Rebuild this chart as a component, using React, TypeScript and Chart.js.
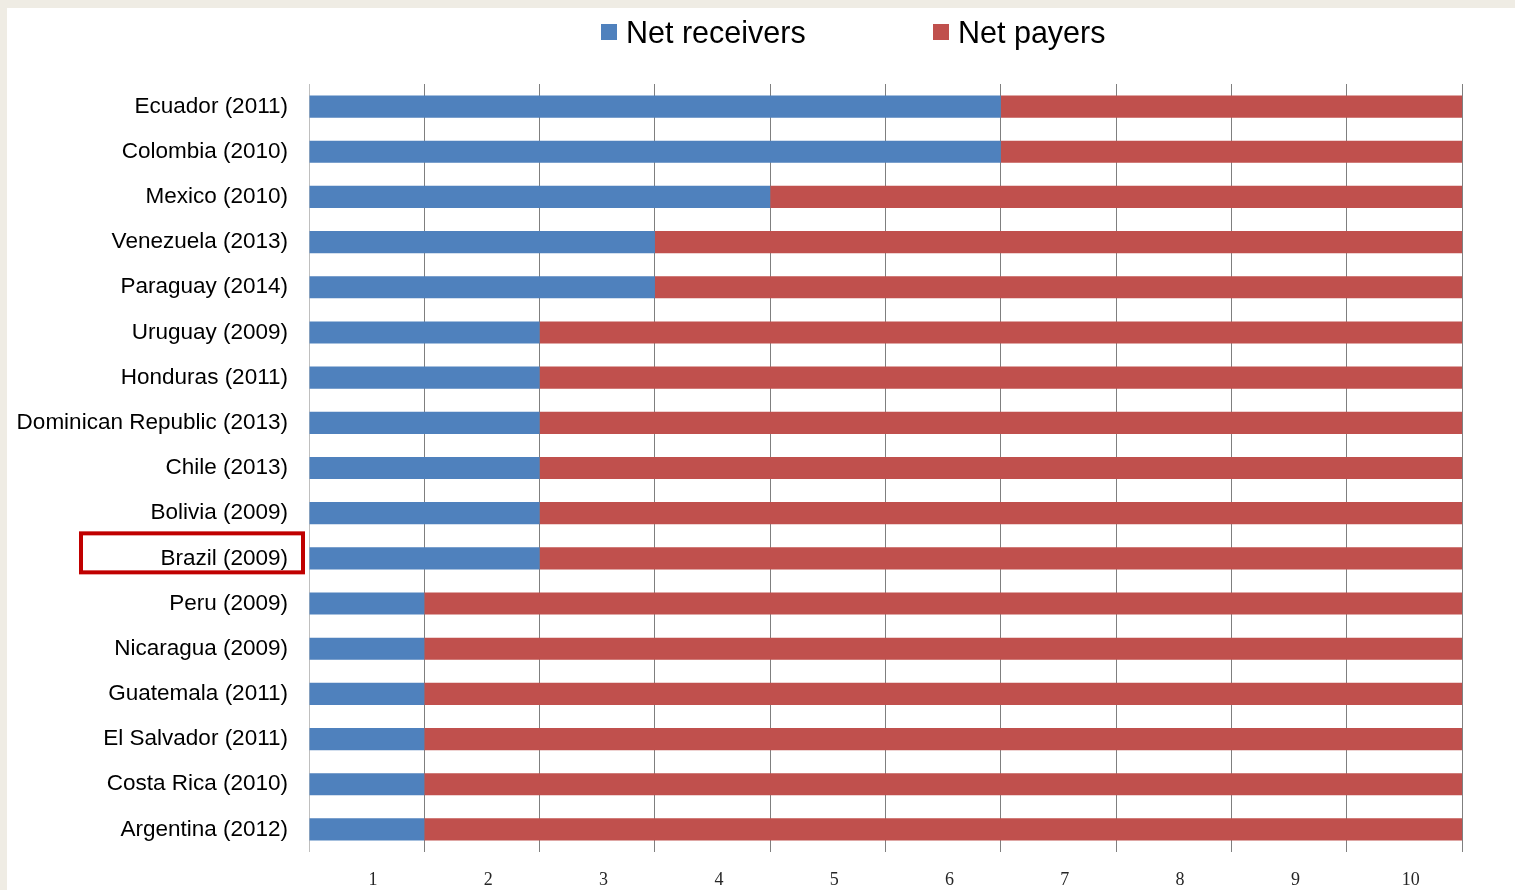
import React, { useEffect, useRef } from "react";
import { Chart, registerables } from "chart.js";

Chart.register(...registerables);

const categories = [
  "Ecuador (2011)",
  "Colombia (2010)",
  "Mexico (2010)",
  "Venezuela (2013)",
  "Paraguay (2014)",
  "Uruguay (2009)",
  "Honduras (2011)",
  "Dominican Republic (2013)",
  "Chile (2013)",
  "Bolivia (2009)",
  "Brazil (2009)",
  "Peru (2009)",
  "Nicaragua (2009)",
  "Guatemala (2011)",
  "El Salvador (2011)",
  "Costa Rica (2010)",
  "Argentina (2012)",
];

const netReceivers = [6, 6, 4, 3, 3, 2, 2, 2, 2, 2, 2, 1, 1, 1, 1, 1, 1];
const netPayers = [4, 4, 6, 7, 7, 8, 8, 8, 8, 8, 8, 9, 9, 9, 9, 9, 9];

const xTickLabels = ["1", "2", "3", "4", "5", "6", "7", "8", "9", "10"];

const highlighted = "Brazil (2009)";

const seriesNames = ["Net receivers", "Net payers"];
const seriesColors = ["#4f81bd", "#c0504d"];

const W = 1508;
const H = 882;

export default function App() {
  const ref = useRef<HTMLCanvasElement | null>(null);

  useEffect(() => {
    if (!ref.current) return;
    const highlightPlugin = {
      id: "highlight",
      afterDraw(chart: any) {
        const idx = categories.indexOf(highlighted);
        if (idx < 0) return;
        const ctx = chart.ctx;
        const yc = chart.scales.y.getPixelForValue(idx);
        const right = chart.chartArea.left - 6;
        const left = right - 222;
        ctx.save();
        ctx.strokeStyle = "#c00000";
        ctx.lineWidth = 4;
        ctx.strokeRect(left, yc - 25, right - left, 39);
        ctx.restore();
      },
    };

    const chart = new Chart(ref.current, {
      type: "bar",
      data: {
        labels: categories,
        datasets: [
          {
            label: seriesNames[0],
            data: netReceivers,
            backgroundColor: seriesColors[0],
            borderWidth: 0,
            barPercentage: 0.49,
            categoryPercentage: 1,
          },
          {
            label: seriesNames[1],
            data: netPayers,
            backgroundColor: seriesColors[1],
            borderWidth: 0,
            barPercentage: 0.49,
            categoryPercentage: 1,
          },
        ],
      },
      options: {
        indexAxis: "y",
        responsive: false,
        animation: false,
        devicePixelRatio: 1,
        layout: { padding: { top: 76, right: 53, bottom: 0, left: 0 } },
        plugins: {
          legend: { display: false },
          tooltip: { enabled: false },
        },
        scales: {
          x: {
            type: "linear",
            stacked: true,
            min: 0,
            max: 10,
            border: { display: false },
            grid: {
              drawTicks: false,
              color: (c: any) => (c.tick && c.tick.value === 0 ? "#bfbfbf" : "#7f7f7f"),
              lineWidth: 1,
            },
            ticks: {
              stepSize: 1,
              padding: 17,
              labelOffset: 64,
              color: "#262626",
              font: { family: "'Liberation Serif', serif", size: 18 },
              callback: (v: any) => (v < 10 ? xTickLabels[v] : ""),
            },
            afterFit: (s: any) => {
              s.height = 38;
            },
          },
          y: {
            type: "category",
            stacked: true,
            border: { display: false },
            grid: { display: false, drawTicks: false },
            ticks: {
              padding: 21,
              color: "#000000",
              font: { family: "'Liberation Sans', Arial, sans-serif", size: 22.5 },
            },
            afterFit: (s: any) => {
              s.width = 302;
            },
          },
        },
      },
      plugins: [highlightPlugin],
    } as any);
    return () => chart.destroy();
  }, []);

  const legendItem = (i: number, left: number) => (
    <div
      key={i}
      style={{
        position: "absolute",
        left,
        top: 9,
        height: 30,
        display: "flex",
        alignItems: "center",
        fontFamily: "'Liberation Sans', Arial, sans-serif",
        fontSize: 30.5,
        lineHeight: "30px",
        color: "#000",
        whiteSpace: "nowrap",
      }}
    >
      <span
        style={{
          display: "inline-block",
          width: 16,
          height: 16,
          background: seriesColors[i],
          marginRight: 9,
        }}
      />
      <span>{seriesNames[i]}</span>
    </div>
  );

  return (
    <div style={{ position: "fixed", left: 0, top: 0, width: "100%", height: "100%", background: "#efece4" }}>
      <div style={{ position: "absolute", left: 7, top: 8, width: W, height: H, background: "#ffffff" }}>
        <canvas ref={ref} width={W} height={H} style={{ display: "block", width: W, height: H }} />
        {legendItem(0, 594)}
        {legendItem(1, 926)}
      </div>
    </div>
  );
}
